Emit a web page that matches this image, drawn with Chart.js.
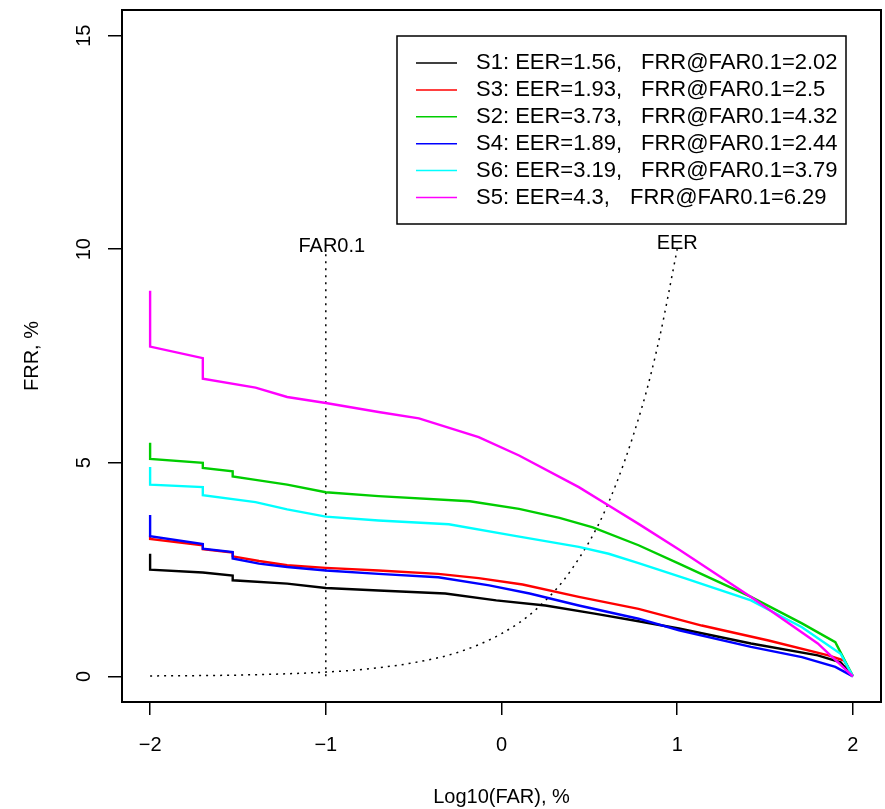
<!DOCTYPE html>
<html>
<head>
<meta charset="utf-8">
<script src="https://cdn.jsdelivr.net/npm/chart.js@4/dist/chart.umd.min.js"></script>
<style>
  body { margin: 0; background: #fff; }
</style>
</head>
<body>
<canvas id="chart" width="885" height="809"></canvas>
<script>
// tick labels
let xTicks = [-2, -1, 0, 1, 2]
let yTicks = [0, 5, 10, 15]

// curves, [log10(FAR), FRR] pairs
let s1 = [[-2,2.87],[-2,2.50],[-1.70,2.43],[-1.53,2.36],[-1.53,2.25],[-1.22,2.17],[-1.0,2.07],[-0.70,2.01],[-0.32,1.94],[-0.03,1.78],[0.25,1.66],[0.53,1.47],[0.78,1.29],[1.01,1.12],[1.42,0.77],[1.80,0.49],[1.93,0.33],[2,0]]
let s3 = [[-2,3.30],[-2,3.22],[-1.70,3.07],[-1.70,2.98],[-1.53,2.90],[-1.53,2.81],[-1.38,2.70],[-1.22,2.60],[-1.0,2.54],[-0.70,2.48],[-0.36,2.40],[-0.13,2.30],[0.12,2.15],[0.44,1.86],[0.78,1.58],[1.14,1.19],[1.52,0.84],[1.86,0.49],[1.95,0.37],[2,0]]
let s2 = [[-2,5.47],[-2,5.09],[-1.70,5.0],[-1.70,4.88],[-1.53,4.80],[-1.53,4.68],[-1.40,4.60],[-1.22,4.49],[-1.0,4.31],[-0.70,4.22],[-0.18,4.10],[0.10,3.92],[0.33,3.71],[0.52,3.49],[0.78,3.07],[1.01,2.64],[1.42,1.86],[1.71,1.24],[1.90,0.80],[2,0]]
let s4 = [[-2,3.78],[-2,3.28],[-1.70,3.10],[-1.70,2.99],[-1.53,2.91],[-1.53,2.76],[-1.38,2.64],[-1.22,2.56],[-1.0,2.48],[-0.70,2.40],[-0.36,2.32],[-0.07,2.13],[0.16,1.94],[0.44,1.66],[0.78,1.35],[1.01,1.08],[1.42,0.69],[1.71,0.45],[1.90,0.22],[2,0]]
let s6 = [[-2,4.90],[-2,4.49],[-1.70,4.43],[-1.70,4.24],[-1.40,4.08],[-1.22,3.91],[-1.0,3.74],[-0.70,3.65],[-0.30,3.56],[0.06,3.30],[0.44,3.03],[0.61,2.87],[0.78,2.65],[1.05,2.29],[1.42,1.78],[1.71,1.15],[1.93,0.53],[2,0]]
let s5 = [[-2,9.03],[-2,7.72],[-1.70,7.45],[-1.70,6.97],[-1.40,6.76],[-1.22,6.54],[-1.0,6.40],[-0.70,6.19],[-0.47,6.04],[-0.13,5.60],[0.10,5.17],[0.44,4.43],[0.61,4.0],[0.78,3.57],[1.01,2.97],[1.42,1.86],[1.80,0.77],[2,0]]

// reference curves
let eerCurve = [[-2,0.01],[-1.5,0.03],[-1,0.1],[-0.75,0.18],[-0.5,0.32],[-0.25,0.56],[0,1.0],[0.2,1.58],[0.4,2.51],[0.6,3.98],[0.8,6.31],[0.9,7.94],[1,10]]
let far01Line = [[-1,0],[-1,10]]

let seriesNames = ['S1', 'S3', 'S2', 'S4', 'S6', 'S5']
let seriesColors = ['#000000', '#ff0000', '#00cd00', '#0000ff', '#00ffff', '#ff00ff']
let legendEer = ['S1: EER=1.56,', 'S3: EER=1.93,', 'S2: EER=3.73,', 'S4: EER=1.89,', 'S6: EER=3.19,', 'S5: EER=4.3,']
let legendFrr = ['FRR@FAR0.1=2.02', 'FRR@FAR0.1=2.5', 'FRR@FAR0.1=4.32', 'FRR@FAR0.1=2.44', 'FRR@FAR0.1=3.79', 'FRR@FAR0.1=6.29']
let seriesData = [s1, s3, s2, s4, s6, s5]

const FONT = '20px "Liberation Sans", Arial, sans-serif'
const LEGEND_FONT = '22px "Liberation Sans", Arial, sans-serif'

function pts(arr) { return arr.map(p => ({x: p[0], y: p[1]})) }

let datasets = seriesData.map((d, i) => ({
  label: seriesNames[i],
  data: pts(d),
  borderColor: seriesColors[i],
  borderWidth: 2.4,
  pointRadius: 0,
  tension: 0,
  order: seriesData.length - i
}))
datasets.push({label: 'EER', data: pts(eerCurve), borderColor: '#000', borderWidth: 1.5,
  borderDash: [2, 5], pointRadius: 0, cubicInterpolationMode: 'monotone', order: 10})
datasets.push({label: 'FAR0.1', data: pts(far01Line), borderColor: '#000', borderWidth: 1.5,
  borderDash: [2, 5], pointRadius: 0, order: 10})

// draws the R-like box, labels and legend
let rStyle = {
  id: 'rStyle',
  afterDraw(c) {
    let ctx = c.ctx, a = c.chartArea, xs = c.scales.x, ys = c.scales.y
    ctx.save()
    ctx.strokeStyle = '#000'
    ctx.lineWidth = 2
    ctx.strokeRect(a.left, a.top, a.right - a.left, a.bottom - a.top)
    ctx.fillStyle = '#000'
    ctx.font = FONT
    ctx.textAlign = 'center'
    ctx.textBaseline = 'middle'
    xTicks.forEach(v => ctx.fillText(String(v).replace('-', '\u2212'), xs.getPixelForValue(v), 745))
    ctx.fillText('Log10(FAR), %', (a.left + a.right) / 2, 797)
    yTicks.forEach(v => {
      ctx.save()
      ctx.translate(84, ys.getPixelForValue(v))
      ctx.rotate(-Math.PI / 2)
      ctx.fillText(String(v), 0, 0)
      ctx.restore()
    })
    ctx.save()
    ctx.translate(32, (a.top + a.bottom) / 2)
    ctx.rotate(-Math.PI / 2)
    ctx.fillText('FRR, %', 0, 0)
    ctx.restore()
    ctx.fillText('FAR0.1', xs.getPixelForValue(-1) + 6, ys.getPixelForValue(10) - 3)
    ctx.fillText('EER', xs.getPixelForValue(1), ys.getPixelForValue(10) - 6)

    // legend
    let lx = 397, ly = 36, lw = 449, lh = 188
    ctx.fillStyle = '#fff'
    ctx.fillRect(lx, ly, lw, lh)
    ctx.lineWidth = 1.5
    ctx.strokeRect(lx, ly, lw, lh)
    ctx.textAlign = 'left'
    ctx.font = LEGEND_FONT
    legendEer.forEach((t, i) => {
      let y = 63 + i * 26.9
      ctx.strokeStyle = seriesColors[i]
      ctx.lineWidth = 1.5
      ctx.beginPath()
      ctx.moveTo(416, y)
      ctx.lineTo(457, y)
      ctx.stroke()
      ctx.fillStyle = '#000'
      ctx.fillText(t, 476, y)
      ctx.fillText(legendFrr[i], i === 5 ? 630 : 641, y)
    })
    ctx.restore()
  }
}

let chart = new Chart(document.getElementById('chart'), {
  type: 'line',
  data: {datasets: datasets},
  options: {
    responsive: false,
    animation: false,
    devicePixelRatio: 1,
    layout: {padding: {top: 10, right: 4, left: 0, bottom: 0}},
    plugins: {legend: {display: false}, tooltip: {enabled: false}},
    scales: {
      x: {
        type: 'linear', min: -2.16, max: 2.16,
        afterFit: s => { s.height = 107 },
        afterBuildTicks: s => { s.ticks = xTicks.map(v => ({value: v})) },
        ticks: {display: false},
        border: {display: false},
        grid: {drawOnChartArea: false, drawTicks: true, tickLength: 13, color: '#000', lineWidth: 1.5}
      },
      y: {
        type: 'linear', min: -0.6, max: 15.6,
        afterFit: s => { s.width = 122 },
        afterBuildTicks: s => { s.ticks = yTicks.map(v => ({value: v})) },
        ticks: {display: false},
        border: {display: false},
        grid: {drawOnChartArea: false, drawTicks: true, tickLength: 14, color: '#000', lineWidth: 1.5}
      }
    }
  },
  plugins: [rStyle]
})
</script>
</body>
</html>
